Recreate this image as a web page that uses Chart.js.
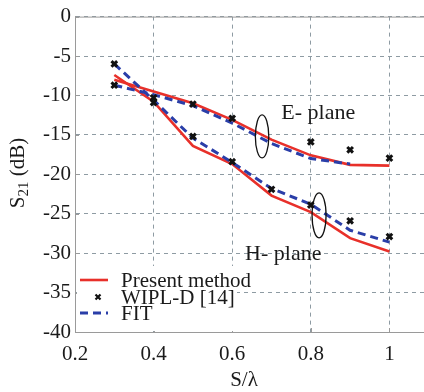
<!DOCTYPE html>
<html>
<head>
<meta charset="utf-8">
<script src="https://cdn.jsdelivr.net/npm/chart.js@4.4.1/dist/chart.umd.min.js"></script>
<style>
  body { margin: 0; background: #fff; }
  #wrap { width: 424px; height: 392px; position: relative; }
</style>
</head>
<body>
<div id="wrap"><canvas id="s21-chart"></canvas></div>
<script>
  // values (S/lambda vs S21 in dB)
  const xVals = [0.3, 0.4, 0.5, 0.6, 0.7, 0.8, 0.9, 1.0];
  const presentE = [-8.0, -9.5, -11.0, -13.1, -15.6, -17.6, -18.8, -18.9];
  const presentH = [-7.4, -10.8, -16.4, -18.7, -22.7, -24.8, -28.1, -29.8];
  const wiplE = [-8.7, -10.3, -11.1, -12.9, null, -15.9, -16.9, -17.95];
  const wiplH = [-6.0, -10.9, -15.2, -18.4, -21.9, -23.9, -25.9, -27.9];
  const fitE = [-8.7, -9.9, -11.3, -13.5, -16.1, -18.0, -18.7, null];
  const fitH = [-6.0, -10.6, -15.4, -18.5, -21.8, -23.8, -27.1, -28.6];
  const xTicks = [0.2, 0.4, 0.6, 0.8, 1];
  const yTicks = [0, -5, -10, -15, -20, -25, -30, -35, -40];

  const RED = '#e8302a';
  const BLUE = '#2a3ea8';
  const FONT = '"Liberation Serif", "Times New Roman", serif';

  function pts(ys) {
    return xVals.map(function(x, i) { return { x: x, y: ys[i] }; });
  }

  const markerStyle = {
    showLine: false,
    pointStyle: 'crossRot',
    pointRadius: 4,
    pointBorderWidth: 3,
    pointBorderColor: '#111',
    borderColor: '#111',
    backgroundColor: '#111'
  };
  const fitStyle = {
    borderColor: BLUE,
    borderWidth: 3,
    borderDash: [8, 5],
    pointRadius: 0,
    fill: false
  };
  const presentStyle = {
    borderColor: RED,
    borderWidth: 2.6,
    pointRadius: 0,
    fill: false
  };

  const extras = {
    id: 'extras',
    beforeDraw: function(chart) {
      const c = chart.ctx;
      c.save();
      c.fillStyle = '#fff';
      c.fillRect(0, 0, chart.width, chart.height);
      c.restore();
    },
    afterDatasetsDraw: function(chart) {
      const c = chart.ctx;
      const xs = chart.scales.x, ys = chart.scales.y;
      const area = chart.chartArea;
      c.save();

      // solid top frame line
      c.strokeStyle = '#9a9a9a';
      c.lineWidth = 1;
      c.beginPath();
      c.moveTo(area.left, area.top + 0.5);
      c.lineTo(area.right, area.top + 0.5);
      c.stroke();

      // small inward ticks
      c.beginPath();
      xTicks.forEach(function(v) {
        const px = Math.round(xs.getPixelForValue(v)) + 0.5;
        c.moveTo(px, area.bottom);
        c.lineTo(px, area.bottom - 4);
      });
      yTicks.forEach(function(v) {
        const py = Math.round(ys.getPixelForValue(v)) + 0.5;
        c.moveTo(area.left, py);
        c.lineTo(area.left + 4, py);
      });
      c.stroke();

      // ellipses marking the two groups of curves
      c.strokeStyle = '#111';
      c.lineWidth = 1.3;
      c.beginPath();
      c.ellipse(xs.getPixelForValue(0.676), ys.getPixelForValue(-15.2), 6.7, 21.5, 0, 0, Math.PI * 2);
      c.stroke();
      c.beginPath();
      c.ellipse(xs.getPixelForValue(0.821), ys.getPixelForValue(-25.2), 7, 22.5, 0, 0, Math.PI * 2);
      c.stroke();

      c.fillStyle = '#1a1a1a';
      c.font = '22px ' + FONT;
      c.textAlign = 'center';
      c.textBaseline = 'middle';
      c.fillText('E- plane', xs.getPixelForValue(0.819), ys.getPixelForValue(-12.3));
      c.fillText('H- plane', xs.getPixelForValue(0.73), ys.getPixelForValue(-30.1));

      // legend box
      c.fillStyle = '#fff';
      c.fillRect(area.left + 2, 266, 160, area.bottom - 267);
      const rows = [
        { ds: chart.data.datasets[4], y: 280 },
        { ds: chart.data.datasets[0], y: 297 },
        { ds: chart.data.datasets[2], y: 313 }
      ];
      c.font = '21px ' + FONT;
      c.textAlign = 'left';
      rows.forEach(function(r) {
        const d = r.ds;
        if (d.showLine === false) {
          c.strokeStyle = '#111';
          c.lineWidth = 2.2;
          c.setLineDash([]);
          c.beginPath();
          c.moveTo(95.5, r.y - 2.5); c.lineTo(100.5, r.y + 2.5);
          c.moveTo(100.5, r.y - 2.5); c.lineTo(95.5, r.y + 2.5);
          c.stroke();
        } else {
          c.strokeStyle = d.borderColor;
          c.lineWidth = d.borderWidth;
          c.setLineDash(d.borderDash || []);
          c.beginPath();
          c.moveTo(80, r.y);
          c.lineTo(108, r.y);
          c.stroke();
        }
        c.setLineDash([]);
        c.fillStyle = '#1a1a1a';
        c.fillText(d.label, 121, r.y + 1);
      });

      // axis titles
      c.font = '21px ' + FONT;
      c.textAlign = 'center';
      c.fillText('S/\u03bb', 244, 380);

      c.translate(18, 173);
      c.rotate(-Math.PI / 2);
      c.textAlign = 'left';
      const sub = '21';
      c.font = '21px ' + FONT;
      const wS = c.measureText('S').width;
      const wRest = c.measureText(' (dB)').width;
      c.font = '15px ' + FONT;
      const wSub = c.measureText(sub).width;
      let x0 = -(wS + wSub + wRest) / 2;
      c.font = '21px ' + FONT;
      c.fillText('S', x0, 0);
      c.font = '15px ' + FONT;
      c.fillText(sub, x0 + wS, 6);
      c.font = '21px ' + FONT;
      c.fillText(' (dB)', x0 + wS + wSub, 0);
      c.restore();
    }
  };

  const ctx = document.getElementById('s21-chart');
  new Chart(ctx, {
    type: 'line',
    data: {
      datasets: [
        Object.assign({ label: 'WIPL-D [14]', data: pts(wiplE) }, markerStyle),
        Object.assign({ label: 'WIPL-D [14] H', data: pts(wiplH) }, markerStyle),
        Object.assign({ label: 'FIT', data: pts(fitE) }, fitStyle),
        Object.assign({ label: 'FIT H', data: pts(fitH) }, fitStyle),
        Object.assign({ label: 'Present method', data: pts(presentE) }, presentStyle),
        Object.assign({ label: 'Present method H', data: pts(presentH) }, presentStyle)
      ]
    },
    options: {
      responsive: true,
      maintainAspectRatio: false,
      animation: false,
      spanGaps: false,
      elements: { line: { tension: 0 } },
      layout: { autoPadding: false, padding: { top: 14, right: 0, bottom: 0, left: 0 } },
      scales: {
        x: {
          type: 'linear',
          min: 0.2,
          max: 1.088,
          afterBuildTicks: function(s) {
            s.ticks = xTicks.map(function(v) { return { value: v }; });
          },
          afterFit: function(s) { s.height = 60; },
          border: { display: true, color: '#9a9a9a', width: 1, dash: [4, 4] },
          grid: { color: '#8e9ba3', lineWidth: 1, drawTicks: false },
          ticks: {
            color: '#1a1a1a',
            padding: 10,
            maxRotation: 0,
            font: { family: FONT, size: 21 },
            callback: function(v) { return String(v); }
          }
        },
        y: {
          type: 'linear',
          min: -40,
          max: 0,
          afterBuildTicks: function(s) {
            s.ticks = yTicks.map(function(v) { return { value: v }; });
          },
          afterFit: function(s) { s.width = 75; },
          border: { display: true, color: '#9a9a9a', width: 1, dash: [4, 4] },
          grid: { color: '#8e9ba3', lineWidth: 1, drawTicks: false },
          ticks: {
            color: '#1a1a1a',
            padding: 4,
            font: { family: FONT, size: 21 },
            callback: function(v) { return String(v); }
          }
        }
      },
      plugins: {
        legend: { display: false },
        tooltip: { enabled: false }
      }
    },
    plugins: [extras]
  });
</script>
</body>
</html>
